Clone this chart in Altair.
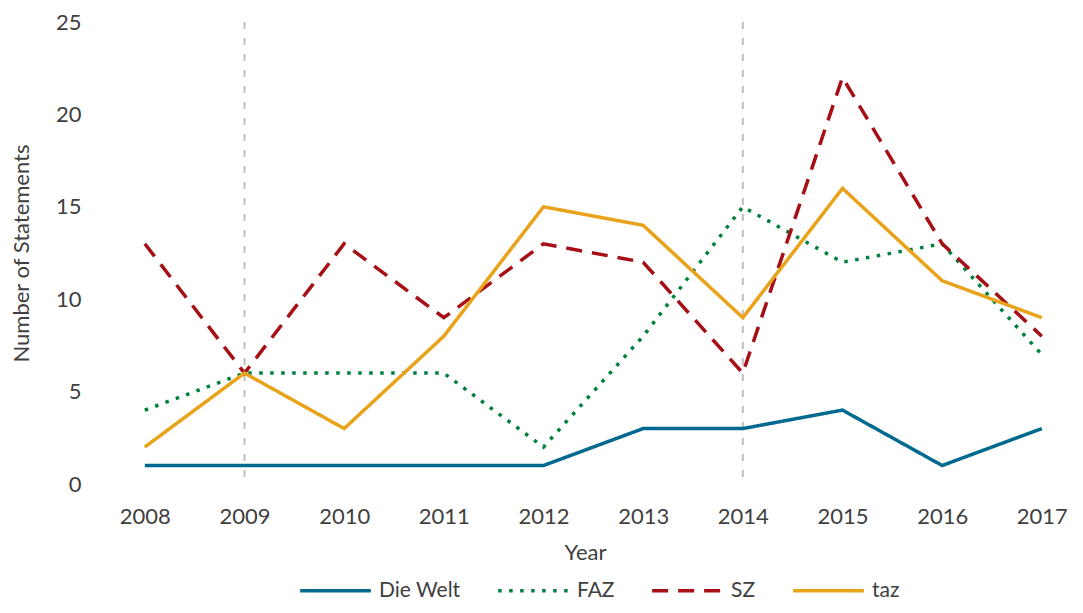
import altair as alt
import pandas as pd

years = [2008, 2009, 2010, 2011, 2012, 2013, 2014, 2015, 2016, 2017]
die_welt = [1, 1, 1, 1, 1, 3, 3, 4, 1, 3]
faz = [4, 6, 6, 6, 2, 8, 15, 12, 13, 7]
sz = [13, 6, 13, 9, 13, 12, 6, 22, 13, 8]
taz = [2, 6, 3, 8, 15, 14, 9, 16, 11, 9]
series_names = ["Die Welt", "FAZ", "SZ", "taz"]
series_colors = ["#00698F", "#00803E", "#A50F15", "#E9A31B"]
series_dashes = [[1, 0], [3.5, 7.5], [16, 10], [1, 0]]
marker_years = [2009, 2014]
y_ticks = [0, 5, 10, 15, 20, 25]

rows = []
for name, vals in zip(series_names, [die_welt, faz, sz, taz]):
    for yr, v in zip(years, vals):
        rows.append({"Year": yr, "Value": v, "Series": name})
df = pd.DataFrame(rows)
markers = pd.DataFrame({"Year": marker_years})

FONT = "Lato"
TEXT = "#404040"

xscale = alt.Scale(domain=[2007.5, 2017.333], nice=False, zero=False)
yscale = alt.Scale(domain=[0, 25], nice=False)

rules = alt.Chart(markers).mark_rule(color="#BFBFBF", strokeWidth=2, strokeDash=[7, 9]).encode(
    x=alt.X("Year:Q", scale=xscale),
    y=alt.datum(25, scale=yscale),
    y2=alt.datum(0),
)

leg = dict(title=None, orient="none", direction="horizontal",
           legendX=203, legendY=531, symbolType="stroke",
           symbolSize=5000, symbolStrokeWidth=3.5,
           columnPadding=30, labelOffset=6)

lines = alt.Chart(df).mark_line(strokeWidth=3.5).encode(
    x=alt.X("Year:Q", scale=xscale,
            axis=alt.Axis(values=years, format="d", title="Year", grid=False,
                          domain=False, ticks=False, labelPadding=22, titlePadding=15)),
    y=alt.Y("Value:Q", scale=yscale,
            axis=alt.Axis(values=y_ticks, title="Number of Statements", domain=False,
                          ticks=False, labelPadding=14, titlePadding=22,
                          gridColor="#D9D9D9", gridWidth=2)),
    color=alt.Color("Series:N", scale=alt.Scale(domain=series_names, range=series_colors),
                    legend=alt.Legend(**leg)),
    strokeDash=alt.StrokeDash("Series:N", scale=alt.Scale(domain=series_names, range=series_dashes),
                              legend=alt.Legend(**leg)),
    order=alt.Order("Year:Q"),
)

chart = alt.layer(rules, lines).properties(
    width=980, height=462,
    autosize=alt.AutoSizeParams(type="none"),
    padding={"left": 87, "top": 14, "right": 0, "bottom": 116},
).configure_view(stroke=None).configure_axis(
    labelFont=FONT, titleFont=FONT, labelFontSize=22, titleFontSize=22,
    labelColor=TEXT, titleColor=TEXT, titleFontWeight="normal",
).configure_legend(
    labelFont=FONT, labelFontSize=21, labelColor=TEXT,
)

chart.save("out.html", embed_options={"renderer": "svg", "actions": False})
